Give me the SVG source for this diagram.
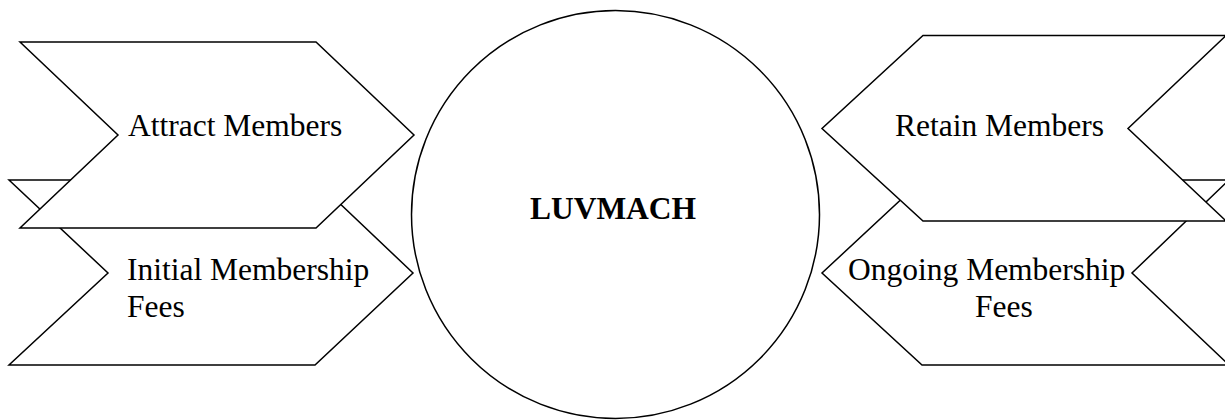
<svg xmlns="http://www.w3.org/2000/svg" width="1225" height="420" viewBox="0 0 1225 420">
<style>
.shape{fill:#ffffff;stroke:#000000;stroke-width:1.5;stroke-linejoin:miter}
.lbl{font-family:"Liberation Serif","Times New Roman",serif;font-size:31.5px;fill:#000000}
.bold{font-weight:bold}
</style>
<rect width="1225" height="420" fill="#ffffff"/>
<g id="connectors"></g>
<g id="node-initial-fees">
<polygon class="shape" points="9,180 315,180 413,273 315,365 9,365 108,273"/>
<text class="lbl" x="127" y="280">Initial Membership</text>
<text class="lbl" x="127" y="317">Fees</text>
</g>
<g id="node-attract">
<polygon class="shape" points="20,42 316,42 414,135 316,228 20,228 118,135"/>
<text class="lbl" x="128" y="136">Attract Members</text>
</g>
<g id="node-ongoing-fees">
<polygon class="shape" points="922,180 1229,180 1132,273 1229,365 922,365 822,273"/>
<text class="lbl" x="848" y="280">Ongoing Membership</text>
<text class="lbl" x="975" y="317">Fees</text>
</g>
<g id="node-retain">
<polygon class="shape" points="923,35.5 1226,35.5 1128,128.5 1226,221 923,221 822,128.5"/>
<text class="lbl" x="895" y="136">Retain Members</text>
</g>
<g id="node-luvmach">
<circle class="shape" cx="615.5" cy="214.5" r="204"/>
<text class="lbl bold" x="613" y="219" text-anchor="middle">LUVMACH</text>
</g>
</svg>
